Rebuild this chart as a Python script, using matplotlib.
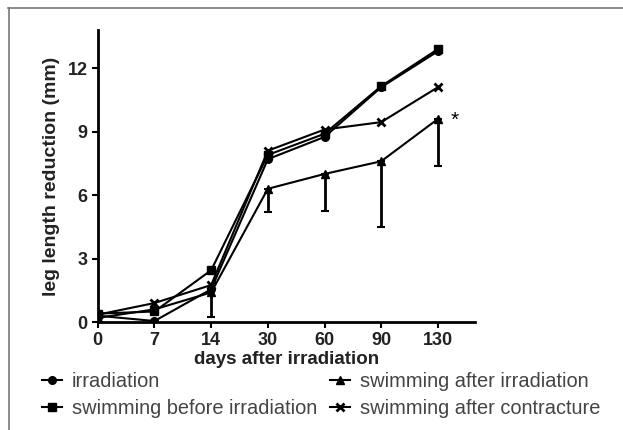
import numpy as np
import matplotlib
matplotlib.use('Agg')
import matplotlib.pyplot as plt
from matplotlib.lines import Line2D

plt.rcParams['font.family'] = ['Liberation Sans', 'DejaVu Sans']

days = ['0', '7', '14', '30', '60', '90', '130']
irradiation = [0.3, 0.05, 1.55, 7.7, 8.75, 11.1, 12.8]
swim_before = [0.4, 0.5, 2.45, 7.9, 8.9, 11.15, 12.9]
swim_after_irr = [0.2, 0.6, 1.4, 6.3, 7.0, 7.6, 9.6]
swim_after_irr_low = [np.nan, np.nan, 0.25, 5.2, 5.25, 4.5, 7.4]
swim_after_con = [0.35, 0.9, 1.75, 8.1, 9.1, 9.45, 11.1]
yticks = [0, 3, 6, 9, 12]


def main():
    fig = plt.figure(figsize=(6.23, 4.3), dpi=100)
    ax = fig.add_axes([0.157, 0.251, 0.605, 0.679])
    x = np.arange(len(days))

    low = np.array(swim_after_irr) - np.array(swim_after_irr_low)
    ax.errorbar(x, swim_after_irr, yerr=[low, np.zeros_like(low)], fmt='none',
                ecolor='black', elinewidth=2, capsize=3, capthick=1.5)

    l1, = ax.plot(x, irradiation, 'k-', marker='o', ms=5.5, lw=1.5,
                  label='irradiation')
    l2, = ax.plot(x, swim_before, 'k-', marker='s', ms=5.5, lw=1.5,
                  label='swimming before irradiation')
    l3, = ax.plot(x, swim_after_irr, 'k-', marker='^', ms=5.5, lw=1.5,
                  label='swimming after irradiation')
    l4, = ax.plot(x, swim_after_con, 'k-', marker='x', ms=6, mew=2, lw=1.5,
                  label='swimming after contracture')

    ax.text(6.22, 9.55, '*', fontsize=15, va='center', ha='left')

    ax.set_xlim(0, 6.65)
    ax.set_ylim(0, 13.8)
    ax.set_xticks(x)
    ax.set_xticklabels(days)
    ax.set_yticks(yticks)
    ax.spines['top'].set_visible(False)
    ax.spines['right'].set_visible(False)
    ax.spines['left'].set_linewidth(2)
    ax.spines['bottom'].set_linewidth(2)
    ax.tick_params(direction='out', length=4, width=1.5, labelsize=13)
    for lab in ax.get_xticklabels() + ax.get_yticklabels():
        lab.set_fontweight('bold')
        lab.set_color('#222222')
    ax.set_xlabel('days after irradiation', fontsize=13.5, fontweight='bold',
                  labelpad=1, color='#222222')
    ax.set_ylabel('leg length reduction (mm)', fontsize=14, fontweight='bold',
                  labelpad=5, color='#222222')

    opts = dict(loc='upper left', frameon=False, fontsize=14.4,
                handlelength=1.0, handletextpad=0.5, labelspacing=0.4,
                borderaxespad=0, borderpad=0)
    leg1 = fig.legend([l1, l2], [l1.get_label(), l2.get_label()],
                      bbox_to_anchor=(42 / 623, 1 - 372 / 430), **opts)
    leg2 = fig.legend([l3, l4], [l3.get_label(), l4.get_label()],
                      bbox_to_anchor=(330 / 623, 1 - 372 / 430), **opts)
    for leg in (leg1, leg2):
        for t in leg.get_texts():
            t.set_color('#444444')

    fig.add_artist(Line2D([8 / 623, 1], [1 - 8 / 430, 1 - 8 / 430],
                          color='#777777', lw=1.2))
    fig.add_artist(Line2D([9 / 623, 9 / 623], [0, 1 - 8 / 430],
                          color='#777777', lw=1.2))

    fig.savefig('out.png', dpi=100)


main()
